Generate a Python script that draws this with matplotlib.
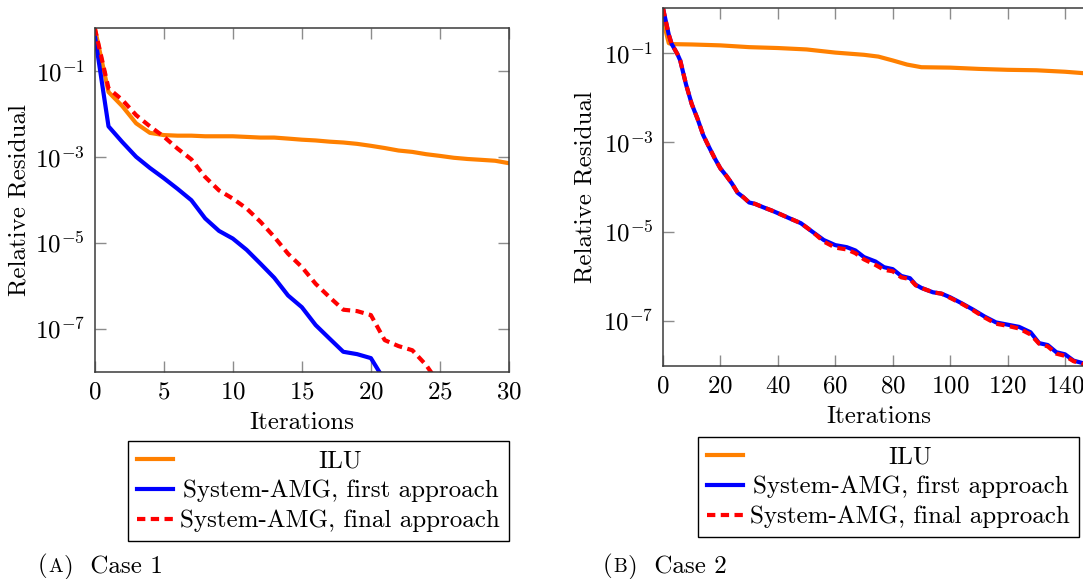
import matplotlib
matplotlib.use("Agg")
import matplotlib.pyplot as plt
from matplotlib.ticker import FixedLocator, NullLocator

plt.rcParams['font.family'] = 'cmr10'
plt.rcParams['mathtext.fontset'] = 'cm'
plt.rcParams['axes.formatter.use_mathtext'] = True

FS = 18

# Case 1: residual history per iteration
it1 = list(range(31))
ilu1 = [1.0, 3.2e-2, 1.5e-2, 6.0e-3, 3.6e-3, 3.2e-3, 3.1e-3, 3.1e-3, 3.0e-3, 3.0e-3,
        3.0e-3, 2.9e-3, 2.8e-3, 2.8e-3, 2.65e-3, 2.5e-3, 2.4e-3, 2.25e-3, 2.15e-3, 2.0e-3,
        1.8e-3, 1.6e-3, 1.4e-3, 1.3e-3, 1.15e-3, 1.05e-3, 9.5e-4, 8.9e-4, 8.5e-4, 8.1e-4,
        7.1e-4]
it1_first = list(range(22))
first1 = [0.7, 5.1e-3, 2.2e-3, 1.0e-3, 5.5e-4, 3.2e-4, 1.8e-4, 9.8e-5, 3.7e-5, 1.9e-5,
          1.26e-5, 6.9e-6, 3.3e-6, 1.55e-6, 6.0e-7, 3.2e-7, 1.23e-7, 6.0e-8, 2.95e-8, 2.6e-8,
          2.1e-8, 6.3e-9]
it1_final = list(range(26))
final1 = [1.0, 3.9e-2, 2.1e-2, 9.3e-3, 5.1e-3, 2.95e-3, 1.55e-3, 8.7e-4, 3.4e-4, 1.66e-4,
          1.07e-4, 6.3e-5, 3.1e-5, 1.38e-5, 5.6e-6, 2.75e-6, 1.12e-6, 5.5e-7, 2.8e-7, 2.6e-7,
          2.1e-7, 5.5e-8, 4.0e-8, 3.2e-8, 1.45e-8, 5.0e-9]

# Case 2
it2_ilu = [0, 1, 2, 3, 10, 20, 30, 40, 50, 60, 70, 75, 80, 85, 90, 100, 110, 120, 130, 140, 146, 150]
ilu2 = [1.0, 0.3, 0.166, 0.158, 0.155, 0.148, 0.135, 0.129, 0.12, 0.102, 0.091, 0.083,
        0.068, 0.055, 0.048, 0.047, 0.044, 0.042, 0.041, 0.038, 0.0355, 0.034]
it2 = [0, 2, 3, 5, 6, 8, 10, 12, 14, 16, 18, 20, 22, 24, 26, 28, 30, 32, 35, 38, 40, 44, 48,
       52, 56, 60, 64, 67, 70, 74, 77, 80, 83, 86, 88, 90, 94, 97, 100, 104, 108, 112, 116,
       120, 124, 128, 131, 134, 137, 140, 143, 146, 150]
first2 = [1.0, 0.26, 0.16, 9.5e-2, 6.8e-2, 2.0e-2, 7.2e-3, 3.4e-3, 1.45e-3, 7.9e-4, 4.4e-4,
          2.6e-4, 1.8e-4, 1.2e-4, 7.4e-5, 5.9e-5, 4.5e-5, 4.2e-5, 3.5e-5, 2.95e-5, 2.6e-5,
          2.0e-5, 1.55e-5, 1.0e-5, 6.5e-6, 5.0e-6, 4.5e-6, 3.8e-6, 2.7e-6, 2.15e-6, 1.6e-6,
          1.45e-6, 1.02e-6, 9.1e-7, 6.5e-7, 5.5e-7, 4.4e-7, 4.1e-7, 3.4e-7, 2.5e-7, 1.8e-7,
          1.26e-7, 9.3e-8, 8.3e-8, 7.4e-8, 5.6e-8, 3.2e-8, 2.9e-8, 2.0e-8, 1.8e-8, 1.3e-8,
          1.15e-8, 8.9e-9]
final2 = [1.0, 0.26, 0.16, 9.5e-2, 6.8e-2, 2.0e-2, 7.2e-3, 3.4e-3, 1.45e-3, 7.9e-4, 4.4e-4,
          2.6e-4, 1.8e-4, 1.2e-4, 7.4e-5, 5.9e-5, 4.5e-5, 4.2e-5, 3.5e-5, 2.95e-5, 2.6e-5,
          2.0e-5, 1.55e-5, 1.0e-5, 6.0e-6, 4.4e-6, 4.0e-6, 3.3e-6, 2.4e-6, 1.8e-6, 1.4e-6,
          1.3e-6, 9.5e-7, 8.7e-7, 6.3e-7, 5.5e-7, 4.4e-7, 4.1e-7, 3.3e-7, 2.45e-7, 1.74e-7,
          1.2e-7, 8.7e-8, 7.8e-8, 6.8e-8, 5.0e-8, 3.1e-8, 2.7e-8, 1.86e-8, 1.66e-8, 1.26e-8,
          1.1e-8, 8.5e-9]

labels = ["ILU", "System-AMG, first approach", "System-AMG, final approach"]
ORANGE = (1.0, 0.5, 0.0)
BLUE = (0.0, 0.0, 1.0)
RED = (1.0, 0.0, 0.0)
LW = 3.0
DASH = (0, (2.0, 1.3))

W, H = 1083, 579
fig = plt.figure(figsize=(W / 100, H / 100), dpi=100)


def px_axes(x0, x1, y0, y1):
    return fig.add_axes([x0 / W, 1 - y1 / H, (x1 - x0) / W, (y1 - y0) / H])


def style_axes(ax, xmax, xticks):
    ax.set_yscale('log')
    ax.set_xlim(0, xmax)
    ax.set_ylim(1e-8, 1)
    ax.xaxis.set_major_locator(FixedLocator(xticks))
    ax.yaxis.set_major_locator(FixedLocator([1e-1, 1e-3, 1e-5, 1e-7]))
    ax.yaxis.set_minor_locator(NullLocator())
    ax.tick_params(direction='in', top=True, right=True, length=8, width=1,
                   color='#8c8c8c', labelsize=FS, pad=7)
    for s in ax.spines.values():
        s.set_color('#3a3a3a')
        s.set_linewidth(1.1)
    ax.set_ylabel("Relative Residual", fontsize=FS)
    ax.set_xlabel("Iterations", fontsize=FS, labelpad=6)


def add_legend(ax, anchor, loc):
    leg = fig.legend(ax.get_lines(), labels, loc=loc, bbox_to_anchor=anchor,
                     fontsize=FS, frameon=True, fancybox=False, framealpha=1,
                     edgecolor='black', handlelength=1.45, handletextpad=0.3,
                     labelspacing=0.3, borderpad=0.35, borderaxespad=0)
    leg.get_frame().set_linewidth(1.0)
    return leg


ax1 = px_axes(94.7, 509, 27.7, 372)
ax1.plot(it1, ilu1, color=ORANGE, lw=LW)
ax1.plot(it1_first, first1, color=BLUE, lw=LW)
ax1.plot(it1_final, final1, color=RED, lw=LW, ls=DASH)
style_axes(ax1, 30, [0, 5, 10, 15, 20, 25, 30])
ax1.yaxis.set_label_coords((31 - 94.7) / 414.3, 0.5)

ax2 = px_axes(663, 1093.7, 8.3, 365.7)
ax2.plot(it2_ilu, ilu2, color=ORANGE, lw=LW)
ax2.plot(it2, first2, color=BLUE, lw=LW)
ax2.plot(it2, final2, color=RED, lw=LW, ls=DASH)
style_axes(ax2, 150, [0, 20, 40, 60, 80, 100, 120, 140])
ax2.yaxis.set_label_coords((596 - 663) / 430.7, 0.5)

legs = [add_legend(ax1, (318.5 / W, 1 - 441 / H), 'upper center'),
        add_legend(ax2, (698 / W, 1 - 437 / H), 'upper left')]

# centre the shorter entries within the text column
fig.canvas.draw()
r = fig.canvas.get_renderer()
for leg in legs:
    texts = leg.get_texts()
    widths = [t.get_window_extent(r).width for t in texts]
    wmax = max(widths)
    for t, w in zip(texts, widths):
        t.set_position(((wmax - w) / 2, 0))


def caption(x, letter, rest):
    # small-caps letter between parentheses, then the case name
    y = 1 - 572 / H
    t = fig.text(x / W, y, "(", fontsize=FS, va='baseline')
    x += t.get_window_extent(r).width + 1
    t = fig.text(x / W, y, letter, fontsize=FS * 0.78, va='baseline')
    x += t.get_window_extent(r).width + 1
    fig.text(x / W, y, ")  " + rest, fontsize=FS, va='baseline')


caption(38, "A", "Case 1")
caption(603, "B", "Case 2")

fig.savefig("out.png", dpi=100)
